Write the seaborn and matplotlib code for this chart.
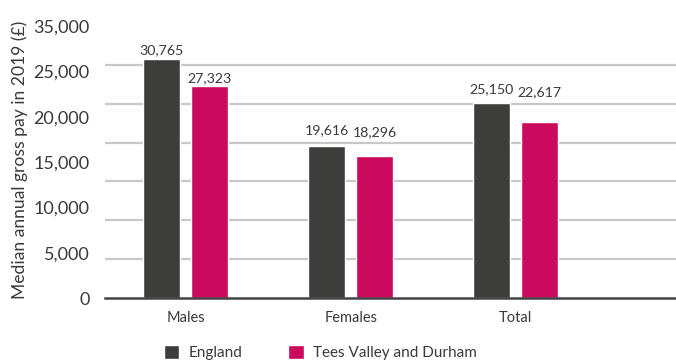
import numpy as np
import pandas as pd
import matplotlib.pyplot as plt
import seaborn as sns
from matplotlib.ticker import FixedLocator

# data
groups = ['Males', 'Females', 'Total']
areas = ['England', 'Tees Valley and Durham']
england_pay = [30765, 19616, 25150]
tees_pay = [27323, 18296, 22617]

# y labels exactly as printed on the source chart (it skips 30,000)
ytick_labels = ['0', '5,000', '10,000', '15,000', '20,000', '25,000', '35,000']

# label gap above each bar (pixels), per area
label_pad = [[5, 11, 9], [4, 20, 26]]

df = pd.DataFrame({
    'group': groups * 2,
    'area': [areas[0]] * len(groups) + [areas[1]] * len(groups),
    'pay': england_pay + tees_pay,
})

sns.set_style('white')
plt.rcParams['font.family'] = ['Lato', 'DejaVu Sans']
text_col = '#3a3a3a'

fig = plt.figure(figsize=(6.76, 3.63), dpi=100)
ax = fig.add_axes([0.155, 0.179, 0.845, 0.760])

sns.barplot(data=df, x='group', y='pay', hue='area',
            palette=['#3d3d3b', '#cc0a5d'], saturation=1,
            width=0.582, gap=0.229, errorbar=None, ax=ax)

ax.set_xlim(-0.49, 2.97)
ax.set_ylim(0, 35500)

# tick labels are spread evenly, gridlines every 5,000
ax.yaxis.set_major_locator(FixedLocator(np.linspace(0, 35000, 7)))
ax.set_yticklabels(ytick_labels)
ax.yaxis.set_minor_locator(FixedLocator(np.arange(0, 35001, 5000)))
ax.grid(False)
ax.grid(axis='y', which='minor', color='#c8c8c8', lw=1.6)
ax.set_axisbelow(True)
ax.tick_params(which='both', length=0)
ax.tick_params(axis='y', labelsize=13, colors=text_col, pad=11)
ax.tick_params(axis='x', labelsize=10.5, colors=text_col, pad=9)

for s in ['top', 'right', 'left']:
    ax.spines[s].set_visible(False)
ax.spines['bottom'].set_color('#444444')
ax.spines['bottom'].set_linewidth(1.8)

ax.set_xlabel('')
ax.set_ylabel('Median annual gross pay in 2019 (£)', fontsize=12.6,
              color=text_col, labelpad=4)

# value labels
for i, cont in enumerate(ax.containers):
    for j, bar in enumerate(cont):
        h = bar.get_height()
        ax.annotate(f'{int(h):,}', xy=(bar.get_x() + bar.get_width() / 2, h),
                    xytext=(0, label_pad[i][j]), textcoords='offset pixels',
                    ha='center', va='baseline', fontsize=10.2, color=text_col)

handles, labels = ax.get_legend_handles_labels()
ax.get_legend().remove()
fig.legend(handles, labels, loc='center', bbox_to_anchor=(0.474, 0.028),
           ncol=2, frameon=False, fontsize=11, handlelength=1.0,
           handleheight=1.0, handletextpad=0.6, columnspacing=3.0,
           labelcolor=text_col)

fig.savefig('out.png', dpi=100)
